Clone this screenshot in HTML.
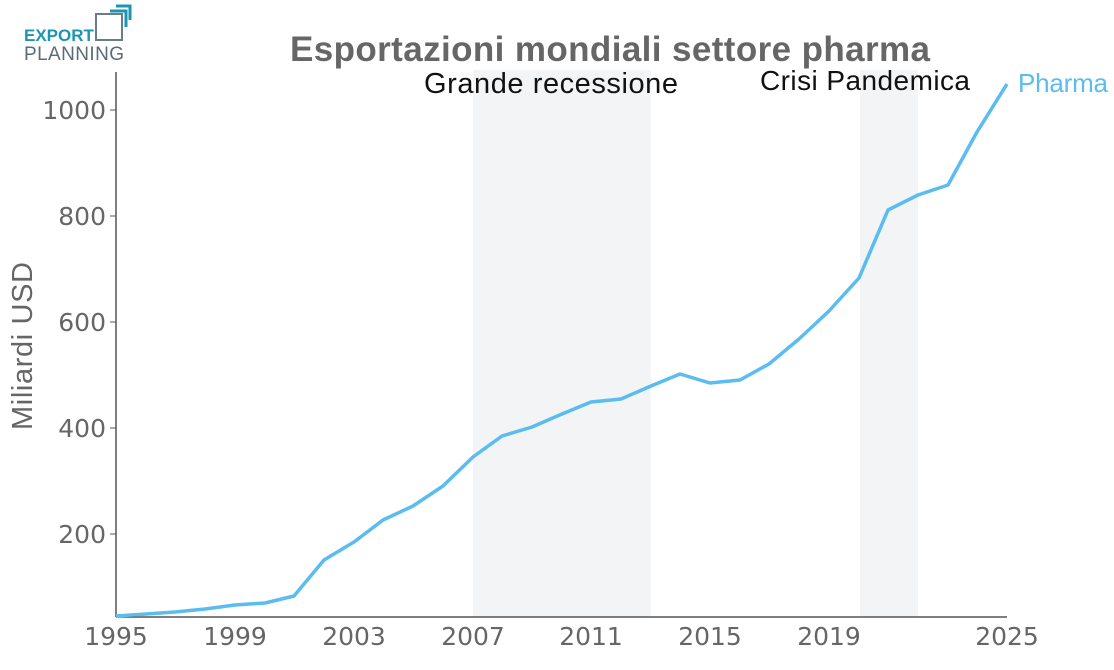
<!DOCTYPE html>
<html><head><meta charset="utf-8"><style>
body{margin:0;background:#fff;width:1114px;height:665px;overflow:hidden}
text{font-family:"Liberation Sans",sans-serif}
.dv text{font-family:"DejaVu Sans",sans-serif}
</style></head><body>
<svg width="1114" height="665" xmlns="http://www.w3.org/2000/svg">
<rect x="473" y="70" width="178" height="547" fill="#f3f4f6"/>
<rect x="860" y="70" width="58" height="547" fill="#f3f4f6"/>
<text x="24" y="41" font-size="17" font-weight="bold" fill="#1b95b0">EXPORT</text>
<text x="24" y="60" font-size="19" fill="#5b6b78" textLength="100">PLANNING</text>
<rect x="96" y="14" width="26" height="26" fill="none" stroke="#6b7d8a" stroke-width="2"/>
<polyline points="110,11 126,11 126,27" fill="none" stroke="#1b95b0" stroke-width="3"/>
<polyline points="116,6 130,6 130,20" fill="none" stroke="#1b95b0" stroke-width="3"/>
<text x="610" y="61" font-size="35" font-weight="bold" fill="#666" text-anchor="middle" textLength="640">Esportazioni mondiali settore pharma</text>
<text x="551" y="93" font-size="29" fill="#111" text-anchor="middle" textLength="254">Grande recessione</text>
<text x="865" y="90" font-size="28" fill="#111" text-anchor="middle" textLength="210">Crisi Pandemica</text>
<line x1="116" y1="72" x2="116" y2="617" stroke="#555" stroke-width="1.5"/>
<line x1="116" y1="617" x2="1007" y2="617" stroke="#555" stroke-width="1.5"/>
<g class="dv" font-size="25" fill="#666" text-anchor="end">
<text x="106" y="119">1000</text><text x="106" y="225">800</text><text x="106" y="331">600</text><text x="106" y="437">400</text><text x="106" y="543">200</text>
</g>
<g stroke="#555"><line x1="110" y1="110" x2="116" y2="110"/><line x1="110" y1="216" x2="116" y2="216"/><line x1="110" y1="322" x2="116" y2="322"/><line x1="110" y1="428" x2="116" y2="428"/><line x1="110" y1="534" x2="116" y2="534"/></g>
<g class="dv" font-size="25" fill="#666" text-anchor="middle">
<text x="116" y="645">1995</text><text x="235" y="645">1999</text><text x="354" y="645">2003</text><text x="473" y="645">2007</text><text x="591" y="645">2011</text><text x="710" y="645">2015</text><text x="829" y="645">2019</text><text x="1007" y="645">2025</text>
</g>
<text x="32" y="346" font-size="29" fill="#666" text-anchor="middle" transform="rotate(-90 32 346)" textLength="168">Miliardi USD</text>
<polyline fill="none" stroke="#5bbcef" stroke-width="3.5" stroke-linejoin="round" points="116,616 146,614 175,612 205,609 235,605 265,603 294,596 324,560 354,542 383,520 413,506 443,486 473,457 502,436 532,427 562,414 591,402 621,399 651,386 680,374 710,383 740,380 769,364 799,339 829,311 859,278 888,210 918,195 948,185 977,132 1007,84"/>
<text x="1018" y="92" font-size="26" fill="#5bbcef" textLength="90">Pharma</text>
</svg>
</body></html>
